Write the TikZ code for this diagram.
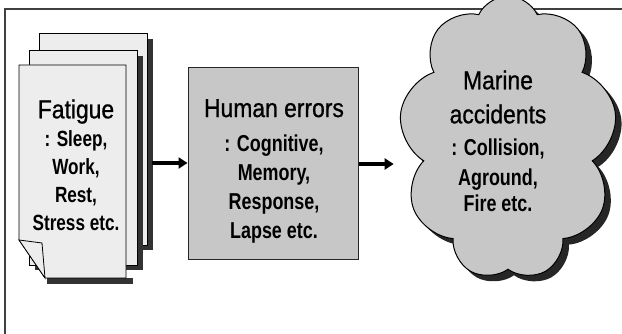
\documentclass[tikz,border=0pt]{standalone}
\usepackage{fontspec}
\setmainfont{Liberation Sans}
\newfontfamily\headfont[FakeStretch=0.88,FakeBold=0.8]{Liberation Sans}
\newfontfamily\listfont[FakeStretch=0.78]{Liberation Sans}
\usetikzlibrary{arrows.meta,shapes.symbols}
\def\head#1{{\fontsize{26}{30}\headfont\mdseries #1}}
\tikzset{
  sheet/.style={draw=black, line width=0.8pt, fill=black!7},
  sheetshade/.style={fill=black!80},
  errbox/.style={draw=black!85, line width=1pt, fill=black!22, minimum width=170pt, minimum height=192pt},
  puffy/.style={cloud, cloud puffs=9, cloud puff arc=130, cloud ignores aspect, minimum width=218pt, minimum height=284pt},
  flow/.style={line width=3.2pt, -{Triangle[length=9pt,width=11pt]}},
  txt/.style={align=center, text=black, inner sep=0pt}
}

\begin{document}
\begin{tikzpicture}[x=1pt,y=-1pt]
  \useasboundingbox (0,0) rectangle (622,334);

  % frame
  \draw[black!75, line width=1.2pt] (5,334) -- (5,9) -- (622,9);

  % fatigue sheets
  \fill[sheetshade] (45,39) rectangle (153,250);
  \draw[sheet] (39,33) rectangle (147,245);
  \fill[sheetshade] (35,56) rectangle (143,270);
  \draw[sheet] (29,50) rectangle (137,265);
  \fill[sheetshade] (47,278) rectangle (133,284);
  \draw[sheet] (19,65) -- (126,65) -- (126,278) -- (45,278) -- (19,240) -- cycle;
  \draw[sheet] (19,240) -- (42,243) -- (45,278) -- cycle;
  \node[txt, font=\fontsize{22}{28}\listfont\bfseries] (fatigue) at (76,165)
    {\head{Fatigue}\\ : Sleep,\\ Work,\\ Rest,\\ Stress etc.};
  \coordinate (fatR) at (152,163);

  % human errors
  \node[errbox] (human) at (273,164) {};
  \node[txt, font=\fontsize{23}{29}\listfont\bfseries] (humantxt) at (274,171)
    {\head{Human errors}\\[5pt] : Cognitive,\\ Memory,\\ Response,\\ Lapse etc.};

  % marine accidents
  \node[puffy, fill=black!85] (accidshade) at (514,144) {};
  \node[puffy, draw=black, line width=1pt, fill=black!22] (accid) at (508,138) {};
  \node[txt, font=\fontsize{23}{30}\listfont\bfseries] (accidtxt) at (498,141)
    {\head{Marine}\\[4pt] \head{accidents}\\[2pt] : Collision,\\ Aground,\\[-4pt] Fire etc.};

  \draw[flow] (fatR) -- (fatR -| human.west);
  \draw[flow, shorten >=10pt] (human.east) -- (human.east -| accid.west);
\end{tikzpicture}
\end{document}
